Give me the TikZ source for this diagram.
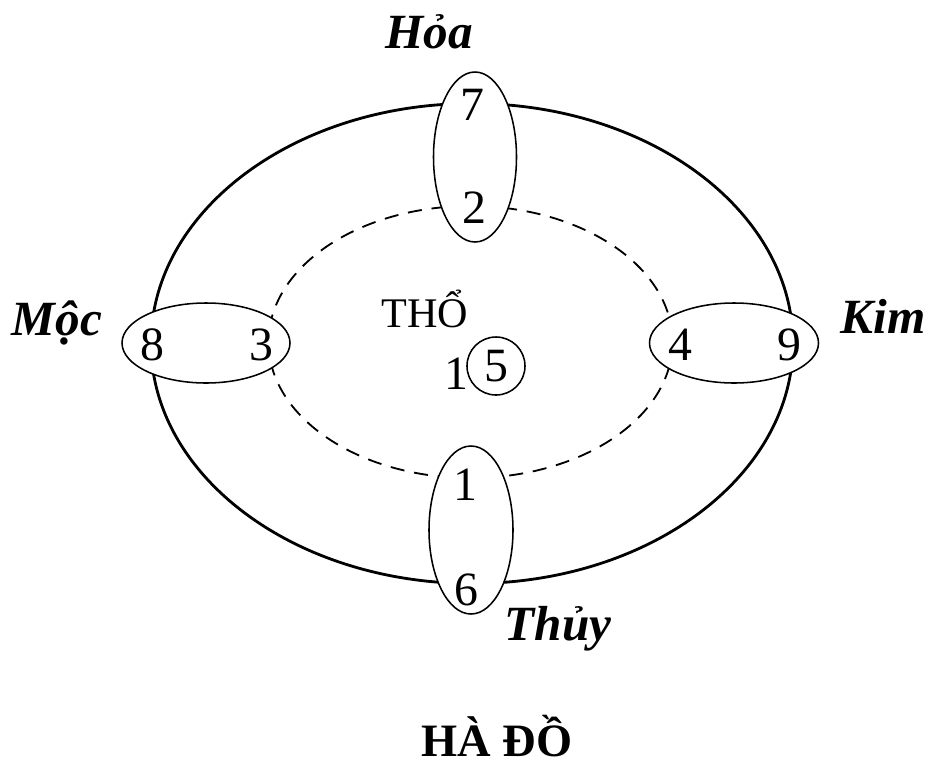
\documentclass[tikz,border=0pt]{standalone}
\usepackage{fontspec}
\setmainfont{Liberation Serif}
\begin{document}
\begin{tikzpicture}[x=0.025cm, y=-0.025cm,
    num/.style={font=\fontsize{34}{34}\selectfont, inner sep=0pt, anchor=base},
    hanh/.style={font=\fontsize{35}{35}\selectfont\bfseries\itshape, inner sep=0pt, anchor=base},
    canh/.style={draw, fill=white, line width=1.1pt}]
  \useasboundingbox (0,0) rectangle (928,764);
  % outer ring and dashed inner ring
  \draw[line width=2pt] (472,343.5) ellipse [x radius=321, y radius=240];
  \draw[line width=1.3pt, dash pattern=on 10pt off 7pt] (470.5,342) ellipse [x radius=202, y radius=136];
  % the four petals
  \draw[canh] (475,157) ellipse [x radius=41.5, y radius=85];
  \draw[canh] (471,530) ellipse [x radius=42, y radius=84];
  \draw[canh] (206,343) ellipse [x radius=84, y radius=40];
  \draw[canh] (734,343) ellipse [x radius=84.5, y radius=40];
  \foreach \n/\x/\y in {7/472/120, 2/474/223, 1/465/500, 6/466/605, 8/152/360, 3/261/360, 4/680/360, 9/789/360}
    {\node[num] (n\n) at (\x,\y) {\n};}
  % centre
  \node[num, anchor=center, circle, draw, line width=1.1pt, minimum size=1.45cm] (nam) at (496,366) {5};
  \node[num, anchor=base east] (mot) at (469,389) {1};
  \node[font=\fontsize{30}{30}\selectfont, inner sep=0pt, anchor=base] (tho) at (425,327) {THỔ};
  % element names
  \node[hanh] (hoa) at (429,48) {Hỏa};
  \node[hanh] (thuy) at (558,640) {Thủy};
  \node[hanh] (moc) at (57,335) {Mộc};
  \node[hanh] (kim) at (883,333) {Kim};
  \node[font=\fontsize{33}{33}\selectfont\bfseries, inner sep=0pt, anchor=base] (hado) at (497,756) {HÀ ĐỒ};
\end{tikzpicture}
\end{document}
